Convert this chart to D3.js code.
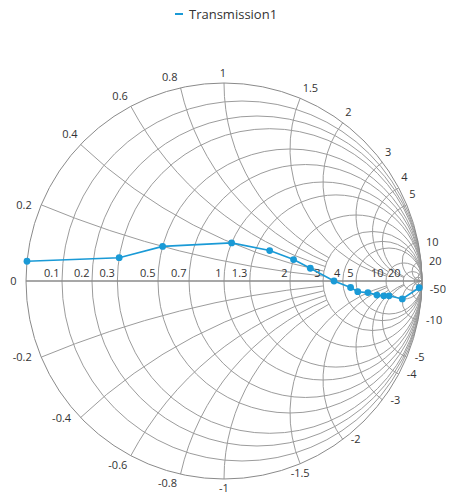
<!DOCTYPE html>
<html>
<head>
<meta charset="utf-8">
<script src="https://cdn.jsdelivr.net/npm/d3@7"></script>
<style>
  body { margin: 0; background: #fff; }
  text { font-family: "Open Sans", "Noto Sans", sans-serif; }
</style>
</head>
<body>
<div id="chart"></div>
<script>
// series data (impedance points)
const seriesName = "Transmission1";
const resistance = [0, 0.3, 0.5, 1.0, 1.5, 2.0, 2.5, 3.5, 4.5, 5.0, 6.0, 7.0, 8.0, 9.0, 10, 20];
const reactance = [0.05, 0.1, 0.2, 0.4, 0.5, 0.5, 0.4, 0.0, -0.5, -1.0, -1.5, -2.5, -3.5, -4.5, -10, -50];

// axis values
const resistanceGrid = [0.1, 0.2, 0.3, 0.5, 0.7, 1, 1.3, 2, 3, 4, 5, 10, 20, 50];
const resistanceLabels = [0.1, 0.2, 0.3, 0.5, 0.7, 1, 1.3, 2, 3, 4, 5, 10, 20];
const reactanceGrid = [0.2, 0.4, 0.6, 0.8, 1, 1.5, 2, 3, 4, 5, 10, 20, 50];
const reactanceLabels = [0, 0.2, 0.4, 0.6, 0.8, 1, 1.5, 2, 3, 4, 5, 10, 20,
  -50, -10, -5, -4, -3, -2, -1.5, -1, -0.8, -0.6, -0.4, -0.2];

const width = 455, height = 500;
const cx = 224, cy = 281, R = 198;

const svg = d3.select("#chart").append("svg")
  .attr("width", width)
  .attr("height", height);

// reflection plane -> pixels
const sx = d3.scaleLinear().domain([-1, 1]).range([cx - R, cx + R]);
const sy = d3.scaleLinear().domain([-1, 1]).range([cy + R, cy - R]);

// z = r + jx  ->  gamma = (z-1)/(z+1)
function gamma(r, x) {
  if (!isFinite(r)) return [1, 0];
  const a = r - 1, c = r + 1;
  const den = c * c + x * x;
  return [(a * c + x * x) / den, (x * c - a * x) / den];
}

// where each reactance arc stops (resistance circle it ends on)
function arcEnd(x) {
  const a = Math.abs(x);
  if (a <= 1) return 3;
  if (a <= 3) return 10;
  if (a <= 5) return 20;
  return Infinity;
}

const gridColor = "#9c9c9c";
const axisColor = "#8a8a8a";
const labelColor = "#333";
const seriesColor = "#1a9ad6";

const grid = svg.append("g");

// resistance circles
grid.selectAll("circle.res")
  .data(resistanceGrid)
  .enter()
  .append("circle")
  .attr("class", "res")
  .attr("cx", d => sx(d / (1 + d)))
  .attr("cy", sy(0))
  .attr("r", d => sx(1 / (1 + d)) - sx(0))
  .attr("fill", "none")
  .attr("stroke", gridColor)
  .attr("stroke-width", 1);

// reactance arcs, both signs
const arcs = [];
reactanceGrid.forEach(v => { arcs.push(v); arcs.push(-v); });

grid.selectAll("path.xarc")
  .data(arcs)
  .enter()
  .append("path")
  .attr("class", "xarc")
  .attr("d", x => {
    const p0 = gamma(0, x);
    const p1 = gamma(arcEnd(x), x);
    const rad = sx(1 / Math.abs(x)) - sx(0);
    return "M" + sx(p0[0]) + "," + sy(p0[1]) +
      "A" + rad + "," + rad + " 0 0 " + (x > 0 ? 0 : 1) + " " + sx(p1[0]) + "," + sy(p1[1]);
  })
  .attr("fill", "none")
  .attr("stroke", gridColor)
  .attr("stroke-width", 1);

// outer circle and horizontal axis
svg.append("circle")
  .attr("cx", sx(0))
  .attr("cy", sy(0))
  .attr("r", sx(1) - sx(0))
  .attr("fill", "none")
  .attr("stroke", axisColor)
  .attr("stroke-width", 1);

svg.append("line")
  .attr("x1", sx(-1)).attr("x2", sx(1))
  .attr("y1", sy(0)).attr("y2", sy(0))
  .attr("stroke", axisColor)
  .attr("stroke-width", 1.5);

// horizontal (resistance) labels
svg.selectAll("text.hlab")
  .data(resistanceLabels)
  .enter()
  .append("text")
  .attr("class", "hlab")
  .attr("x", d => sx(gamma(d, 0)[0]) - 2.5)
  .attr("y", sy(0) - 4)
  .attr("text-anchor", "end")
  .attr("font-size", "11px")
  .attr("fill", labelColor)
  .text(d => d);

// radial (reactance) labels around the rim
function radialPlace(v) {
  const g = gamma(0, v);
  const px = sx(g[0]), py = sy(g[1]);
  const th = Math.atan2(g[1], g[0]) * 180 / Math.PI;
  if (th > 15 && th < 145) {
    if (th < 80) return [px + 2.5, py - 6.5, "start"];
    if (th > 100) return [px - 3, py - 6.5, "end"];
    return [px - 1, py - 6.5, "middle"];
  }
  if (th <= 15 && th > -60) return [px + 8, py + 4, "start"];
  if (th <= -60 && th > -130) {
    if (th > -95) return [px, py + 13, "middle"];
    return [px - 3.5, py + 13, "end"];
  }
  return [px - 9.5, py + 4, "end"];
}

svg.selectAll("text.rlab")
  .data(reactanceLabels)
  .enter()
  .append("text")
  .attr("class", "rlab")
  .attr("x", d => radialPlace(d)[0])
  .attr("y", d => radialPlace(d)[1])
  .attr("text-anchor", d => radialPlace(d)[2])
  .attr("font-size", "11px")
  .attr("fill", labelColor)
  .text(d => d);

// series
const points = resistance.map((r, i) => gamma(r, reactance[i]));

const line = d3.line()
  .x(d => sx(d[0]))
  .y(d => sy(d[1]));

svg.append("path")
  .datum(points)
  .attr("d", line)
  .attr("fill", "none")
  .attr("stroke", seriesColor)
  .attr("stroke-width", 1.6);

svg.selectAll("circle.pt")
  .data(points)
  .enter()
  .append("circle")
  .attr("class", "pt")
  .attr("cx", d => sx(d[0]))
  .attr("cy", d => sy(d[1]))
  .attr("r", 3.4)
  .attr("fill", seriesColor);

// legend
const legend = svg.append("g");
legend.append("rect")
  .attr("x", 175).attr("y", 13)
  .attr("width", 8).attr("height", 2)
  .attr("fill", seriesColor);
legend.append("text")
  .attr("x", 189)
  .attr("y", 19)
  .attr("font-size", "13px")
  .attr("fill", "#333")
  .text(seriesName);
</script>
</body>
</html>
